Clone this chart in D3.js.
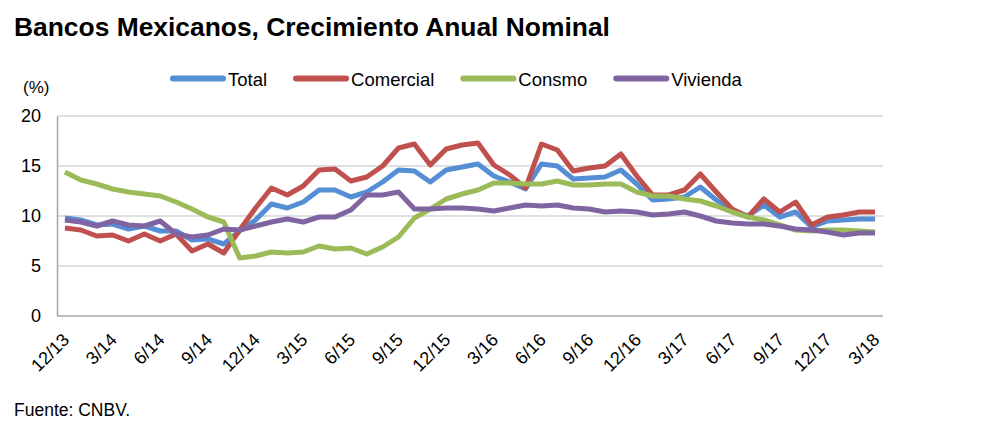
<!DOCTYPE html>
<html>
<head>
<meta charset="utf-8">
<script src="https://cdn.jsdelivr.net/npm/d3@7"></script>
<style>
  html, body { margin: 0; padding: 0; background: #fff; }
  svg { display: block; font-family: "Liberation Sans", Arial, sans-serif; }
</style>
</head>
<body>
<svg id="chart" width="991" height="432"></svg>
<script>
// ---- Data ----
const months = [
  "12/13","1/14","2/14","3/14","4/14","5/14","6/14","7/14","8/14","9/14","10/14","11/14",
  "12/14","1/15","2/15","3/15","4/15","5/15","6/15","7/15","8/15","9/15","10/15","11/15",
  "12/15","1/16","2/16","3/16","4/16","5/16","6/16","7/16","8/16","9/16","10/16","11/16",
  "12/16","1/17","2/17","3/17","4/17","5/17","6/17","7/17","8/17","9/17","10/17","11/17",
  "12/17","1/18","2/18","3/18"
];
const tickLabels = ["12/13","3/14","6/14","9/14","12/14","3/15","6/15","9/15","12/15",
  "3/16","6/16","9/16","12/16","3/17","6/17","9/17","12/17","3/18"];
const yTicks = [0, 5, 10, 15, 20];

const total = [9.8, 9.6, 9.1, 9.2, 8.7, 9.0, 8.5, 8.5, 7.6, 7.7, 7.2, 8.5,
  9.6, 11.2, 10.8, 11.4, 12.6, 12.6, 11.9, 12.4, 13.4, 14.6, 14.5, 13.4,
  14.6, 14.9, 15.2, 14.0, 13.4, 12.7, 15.2, 15.0, 13.7, 13.8, 13.9, 14.6,
  13.2, 11.6, 11.7, 11.9, 12.9, 11.6, 10.6, 10.0, 11.1, 9.9, 10.4, 8.9,
  9.5, 9.6, 9.7, 9.7];
const comercial = [8.8, 8.6, 8.0, 8.1, 7.5, 8.2, 7.5, 8.2, 6.5, 7.2, 6.3, 8.6,
  10.8, 12.8, 12.1, 13.0, 14.6, 14.7, 13.5, 13.9, 15.0, 16.8, 17.2, 15.1,
  16.7, 17.1, 17.3, 15.1, 14.1, 12.8, 17.2, 16.6, 14.5, 14.8, 15.0, 16.2,
  14.0, 12.1, 12.1, 12.6, 14.2, 12.4, 10.7, 9.9, 11.7, 10.4, 11.4, 9.1,
  9.9, 10.1, 10.4, 10.4];
const consumo = [14.4, 13.6, 13.2, 12.7, 12.4, 12.2, 12.0, 11.4, 10.7, 9.9, 9.4, 5.8,
  6.0, 6.4, 6.3, 6.4, 7.0, 6.7, 6.8, 6.2, 6.9, 7.9, 9.8, 10.7,
  11.7, 12.2, 12.6, 13.3, 13.3, 13.2, 13.2, 13.5, 13.1, 13.1, 13.2, 13.2,
  12.4, 12.0, 12.0, 11.7, 11.5, 11.0, 10.4, 9.9, 9.6, 9.1, 8.6, 8.5,
  8.6, 8.6, 8.5, 8.4];
const vivienda = [9.6, 9.4, 9.0, 9.5, 9.1, 9.0, 9.5, 8.2, 7.9, 8.1, 8.7, 8.6,
  9.0, 9.4, 9.7, 9.4, 9.9, 9.9, 10.6, 12.1, 12.1, 12.4, 10.7, 10.7,
  10.8, 10.8, 10.7, 10.5, 10.8, 11.1, 11.0, 11.1, 10.8, 10.7, 10.4, 10.5,
  10.4, 10.1, 10.2, 10.4, 10.0, 9.5, 9.3, 9.2, 9.2, 9.0, 8.7, 8.6,
  8.4, 8.1, 8.3, 8.3];

const seriesNames = ["Total", "Comercial", "Consmo", "Vivienda"];
const seriesColors = ["#558ED5", "#C0504D", "#9BBB59", "#8064A2"];
const seriesValues = [total, comercial, consumo, vivienda];

// ---- Layout ----
const svg = d3.select("#chart");
const plot = { left: 57, right: 883, top: 116, bottom: 316 };

const x = d3.scalePoint().domain(months).range([plot.left, plot.right]).padding(0.5);
const y = d3.scaleLinear().domain([0, 20]).range([plot.bottom, plot.top]);

// Title
svg.append("text")
  .attr("x", 14).attr("y", 36)
  .attr("font-size", 26.4).attr("font-weight", "bold").attr("fill", "#000")
  .text("Bancos Mexicanos, Crecimiento Anual Nominal");

// (%) unit label
svg.append("text")
  .attr("x", 23).attr("y", 93)
  .attr("font-size", 17).attr("fill", "#000")
  .text("(%)");

// Gridlines
svg.append("g")
  .selectAll("line")
  .data(yTicks.filter(d => d !== 0))
  .join("line")
  .attr("x1", plot.left).attr("x2", plot.right)
  .attr("y1", d => y(d)).attr("y2", d => y(d))
  .attr("stroke", "#BFBFBF").attr("stroke-width", 1);

// Y axis
const yAxis = svg.append("g")
  .attr("transform", `translate(${plot.left},0)`)
  .call(d3.axisLeft(y).tickValues(yTicks).tickSize(0).tickPadding(16));
yAxis.select(".domain").attr("stroke", "#A6A6A6").attr("stroke-width", 1.5);
yAxis.selectAll("text").attr("font-size", 18).attr("fill", "#000")
  .attr("font-family", "Liberation Sans, Arial, sans-serif");

// X axis
const xAxis = svg.append("g")
  .attr("transform", `translate(0,${plot.bottom})`)
  .call(d3.axisBottom(x).tickValues(tickLabels).tickSize(0));
xAxis.select(".domain").attr("stroke", "#A6A6A6").attr("stroke-width", 1.5)
  .attr("d", `M${plot.left},0H${plot.right}`);
xAxis.selectAll("text")
  .attr("font-size", 18).attr("fill", "#000")
  .attr("font-family", "Liberation Sans, Arial, sans-serif")
  .attr("text-anchor", "end")
  .attr("y", 0).attr("dy", 0)
  .attr("transform", "translate(5,25) rotate(-45)");

// Lines
const lineGen = d3.line()
  .x((d, i) => x(months[i]))
  .y(d => y(d));

svg.append("g")
  .selectAll("path")
  .data(seriesValues)
  .join("path")
  .attr("d", d => lineGen(d))
  .attr("fill", "none")
  .attr("stroke", (d, i) => seriesColors[i])
  .attr("stroke-width", 5)
  .attr("stroke-linejoin", "round")
  .attr("stroke-linecap", "butt");

// Legend
const legend = svg.append("g");
let lx = 170;
const ly = 78.5;
seriesNames.forEach((name, i) => {
  legend.append("line")
    .attr("x1", lx + 3).attr("x2", lx + 53)
    .attr("y1", ly).attr("y2", ly)
    .attr("stroke", seriesColors[i]).attr("stroke-width", 6)
    .attr("stroke-linecap", "round");
  const t = legend.append("text")
    .attr("x", lx + 58).attr("y", 86)
    .attr("font-size", 18.5).attr("fill", "#000")
    .text(name);
  const w = t.node().getComputedTextLength();
  lx = lx + 58 + w + 26;
});

// Source
svg.append("text")
  .attr("x", 14).attr("y", 416)
  .attr("font-size", 17.5).attr("fill", "#000")
  .text("Fuente: CNBV.");
</script>
</body>
</html>
